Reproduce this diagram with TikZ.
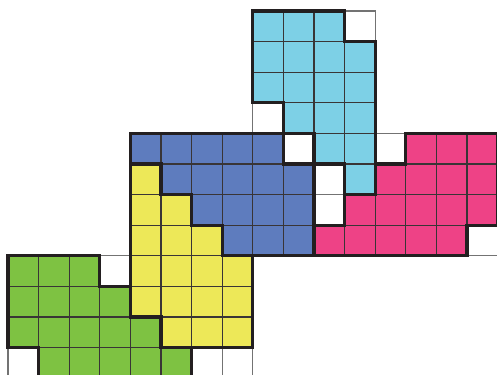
\documentclass[tikz,border=0pt]{standalone}
\usepackage{tikz}
\definecolor{skycell}{RGB}{125,208,230}
\definecolor{bluecell}{RGB}{94,124,190}
\definecolor{pinkcell}{RGB}{238,66,134}
\definecolor{yellowcell}{RGB}{237,232,88}
\definecolor{greencell}{RGB}{126,194,66}
\definecolor{edgeink}{RGB}{35,31,32}

\begin{document}
\begin{tikzpicture}[
x=1cm, y=-1cm,
piece/.style={draw=edgeink, line width=3pt, line join=miter},
cellline/.style={draw=edgeink!90, line width=1.1pt},
holeline/.style={draw=black!55, line width=1pt}
]
\useasboundingbox (-0.261,-0.359) rectangle (15.98,11.895);
\draw[holeline] (11,0) -- (12,0) -- (12,1);
\draw[holeline] (8,3) -- (8,4);
\draw[holeline] (12,4) -- (13,4);
\draw[holeline] (10,6) -- (11,6);
\draw[holeline] (15,8) -- (16,8);
\draw[holeline] (3,8) -- (4,8);
\draw[holeline] (0,11) -- (0,12);
\draw[holeline] (7,11) -- (7,12);
\draw[holeline] (8,11) -- (8,12);
\draw[piece, fill=skycell, path picture={\draw[cellline] (8,0) grid (12,6);}]
  (8,0) -- (11,0) -- (11,1) -- (12,1) -- (12,6) -- (11,6) -- (11,5) -- (10,5)
  -- (10,4) -- (9,4) -- (9,3) -- (8,3) -- cycle;
\draw[piece, fill=bluecell, path picture={\draw[cellline] (4,4) grid (10,8);}]
  (4,4) -- (9,4) -- (9,5) -- (10,5) -- (10,8) -- (7,8) -- (7,7) -- (6,7)
  -- (6,6) -- (5,6) -- (5,5) -- (4,5) -- cycle;
\draw[piece, fill=pinkcell, path picture={\draw[cellline] (10,4) grid (16,8);}]
  (13,4) -- (16,4) -- (16,7) -- (15,7) -- (15,8) -- (10,8) -- (10,7) -- (11,7)
  -- (11,6) -- (12,6) -- (12,5) -- (13,5) -- cycle;
\draw[piece, fill=yellowcell, path picture={\draw[cellline] (4,5) grid (8,11);}]
  (4,5) -- (5,5) -- (5,6) -- (6,6) -- (6,7) -- (7,7) -- (7,8) -- (8,8)
  -- (8,11) -- (5,11) -- (5,10) -- (4,10) -- cycle;
\draw[piece, fill=greencell, path picture={\draw[cellline] (0,8) grid (6,12);}]
  (0,8) -- (3,8) -- (3,9) -- (4,9) -- (4,10) -- (5,10) -- (5,11) -- (6,11)
  -- (6,12) -- (1,12) -- (1,11) -- (0,11) -- cycle;
\end{tikzpicture}
\end{document}
